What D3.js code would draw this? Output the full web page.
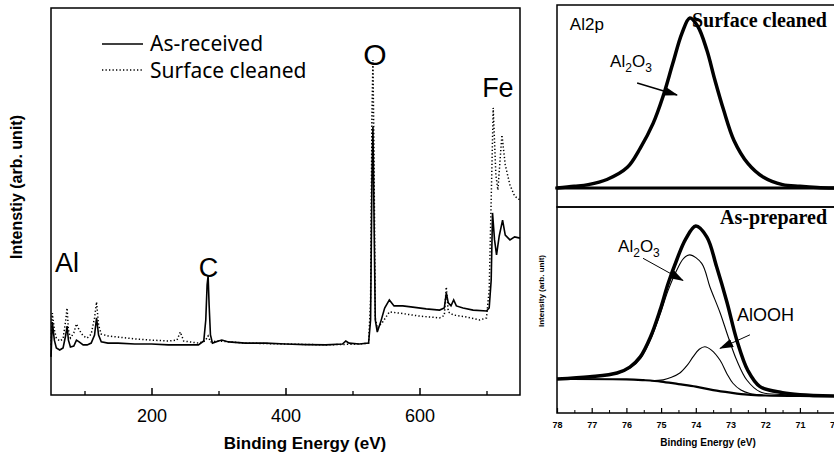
<!DOCTYPE html>
<html>
<head>
<meta charset="utf-8">
<script src="https://d3js.org/d3.v7.min.js"></script>
<style>
  body { margin: 0; background: #fff; }
</style>
</head>
<body>
<div id="chart"></div>
<script>
// survey spectra: [binding energy (eV), intensity (arb. unit)]
var asReceived = [
  [50, 12.7], [52, 24.3], [55, 18.3], [58, 15.7], [63, 15], [68, 15.7], [72, 20], [74, 23],
  [76, 18.3], [79, 16], [84, 16.3], [88, 18.3], [92, 17.7], [98, 16.7], [104, 16.7], [110, 17.3],
  [115, 20], [118, 25.7], [121, 20], [125, 17.7], [135, 17.3], [150, 17.3], [175, 17], [200, 17],
  [225, 16.7], [250, 16.7], [270, 16.7], [278, 18], [281, 25], [283, 36.7], [284.5, 39.7], [286, 30],
  [288, 20], [291, 17.3], [300, 18], [305, 18.3], [315, 17.7], [340, 17.3], [370, 17.3], [400, 17],
  [430, 16.8], [460, 16.7], [485, 17], [490, 18], [495, 17.3], [510, 17], [524, 17.3], [527, 25],
  [529, 71.7], [530.5, 89.3], [532, 61.7], [534, 25], [537, 21], [542, 24.3], [548, 29], [555, 31.7],
  [562, 29.7], [575, 29.7], [590, 29.3], [610, 28.7], [630, 28.3], [637, 29], [640, 34], [643, 30.7],
  [647, 29.7], [651, 31.7], [655, 29.7], [665, 29], [680, 28.3], [700, 28], [704, 29], [707, 38.3],
  [709, 60.7], [712, 51.7], [715, 46.7], [719, 53], [724, 58.3], [728, 53.3], [735, 51.7], [742, 52.7],
  [750, 52.3]
];
var surfaceCleaned = [
  [50, 16.7], [52, 27.3], [55, 21.7], [58, 19], [63, 18], [68, 18.7], [72, 25], [74, 29],
  [76, 21.7], [79, 19], [84, 20.7], [88, 23.7], [92, 21.7], [98, 19.7], [104, 19], [110, 20.3],
  [115, 25.7], [118, 31], [121, 23.3], [125, 20.3], [135, 19.7], [150, 19.3], [175, 18.7], [200, 18.3],
  [225, 18], [238, 18.3], [243, 21], [248, 18], [270, 17.3], [280, 18], [284.5, 19.7], [288, 17.7],
  [300, 18], [340, 17.3], [400, 17], [460, 16.7], [510, 17], [524, 17.3], [527, 31.7], [529, 91.7],
  [530.5, 111.7], [532, 81.7], [534, 25.7], [537, 22.3], [545, 24.3], [555, 27.7], [570, 27.3],
  [600, 26.3], [630, 25.7], [637, 26.5], [640, 36], [643, 27.7], [650, 26.7], [670, 26], [690, 25],
  [700, 25.7], [704, 35], [707, 65], [710, 95.7], [714, 73.3], [717, 68.3], [723, 86.7], [728, 76.7],
  [735, 70], [742, 66.3], [750, 65]
];
var surveyTicks = [200, 400, 600];
var surveyMinorTicks = [100, 300, 500, 700];

// Al2p high resolution: [binding energy (eV), normalised intensity]
var cleanedAl2O3 = [
  [78, 0], [77.5, 0.01], [77.1, 0.02], [76.56, 0.05], [75.98, 0.12], [75.6, 0.235], [75.23, 0.38],
  [74.95, 0.535], [74.66, 0.735], [74.4, 0.91], [74.17, 1.0], [73.94, 0.95], [73.68, 0.81],
  [73.45, 0.635], [73.2, 0.46], [72.9, 0.28], [72.5, 0.145], [72.06, 0.065], [71.5, 0.02],
  [71.0, 0.01], [70.5, 0.003], [70, 0]
];
var cleanedBaseline = [[78.05, 0], [70, 0]];
var preparedEnvelope = [
  [78, 0.10], [77.05, 0.113], [76.27, 0.135], [75.9, 0.17], [75.6, 0.23], [75.3, 0.35],
  [75.03, 0.505], [74.8, 0.66], [74.55, 0.80], [74.3, 0.92], [74.0, 1.0], [73.68, 0.935],
  [73.4, 0.76], [73.1, 0.55], [72.82, 0.33], [72.5, 0.15], [72.15, 0.055], [71.5, 0.02],
  [71.0, 0.008], [70, 0]
];
var preparedAl2O3 = [
  [78, 0.10], [77.05, 0.112], [76.27, 0.132], [75.9, 0.165], [75.6, 0.22], [75.3, 0.335],
  [75.03, 0.48], [74.8, 0.62], [74.55, 0.74], [74.35, 0.81], [74.17, 0.83], [73.83, 0.78],
  [73.59, 0.64], [73.3, 0.49], [73.07, 0.35], [72.82, 0.21], [72.53, 0.094], [72.15, 0.025],
  [71.5, 0.008], [70.5, 0.001], [70, 0]
];
var preparedAlOOH = [
  [75.3, 0.09], [74.94, 0.095], [74.7, 0.11], [74.46, 0.135], [74.25, 0.18], [74.08, 0.23],
  [73.9, 0.275], [73.74, 0.29], [73.55, 0.27], [73.3, 0.21], [73.1, 0.13], [72.93, 0.075],
  [72.7, 0.035], [72.44, 0.015], [72.1, 0.006]
];
var preparedBackground = [
  [78, 0.1], [76, 0.098], [75.5, 0.093], [75.0, 0.085], [74.5, 0.07], [74.0, 0.055],
  [73.5, 0.035], [73.0, 0.02], [72.5, 0.008], [72.0, 0.003], [71, 0], [70, 0]
];
var al2pTicks = [78, 77, 76, 75, 74, 73, 72, 71, 70];
var al2pMinorTicks = [77.5, 76.5, 75.5, 74.5, 73.5, 72.5, 71.5, 70.5];

var sans = "'Liberation Sans', Arial, sans-serif";
var serif = "'Liberation Serif', 'Times New Roman', serif";

var svg = d3.select("#chart")
  .append("svg")
    .attr("width", 834)
    .attr("height", 459);

// arrow head
svg.append("defs").append("marker")
    .attr("id", "head")
    .attr("markerUnits", "userSpaceOnUse")
    .attr("viewBox", "0 0 14 9")
    .attr("markerWidth", 14)
    .attr("markerHeight", 9)
    .attr("refX", 13)
    .attr("refY", 4.5)
    .attr("orient", "auto")
  .append("path")
    .attr("d", "M0,0 L14,4.5 L0,9 Z")
    .attr("fill", "#000");

// ---------- left: survey spectrum ----------
var x = d3.scaleLinear().domain([50, 750]).range([51, 520]);
var y = d3.scaleLinear().domain([0, 129]).range([395, 8]);

var surveyLine = d3.line()
  .x(function (d) { return x(d[0]); })
  .y(function (d) { return y(d[1]); });

svg.append("path")
  .datum(surfaceCleaned)
  .attr("d", surveyLine)
  .attr("fill", "none")
  .attr("stroke", "#000")
  .attr("stroke-width", 1.5)
  .attr("stroke-dasharray", "1.3,2.2");

svg.append("path")
  .datum(asReceived)
  .attr("d", surveyLine)
  .attr("fill", "none")
  .attr("stroke", "#000")
  .attr("stroke-width", 1.6);

svg.append("rect")
  .attr("x", x(50)).attr("y", y(129))
  .attr("width", x(750) - x(50)).attr("height", y(0) - y(129))
  .attr("fill", "none").attr("stroke", "#000").attr("stroke-width", 1.5);

var gx = svg.append("g")
  .attr("transform", "translate(0," + y(0) + ")")
  .call(d3.axisBottom(x).tickValues(surveyTicks).tickSize(-7).tickPadding(14).tickFormat(d3.format("d")));
gx.select(".domain").remove();
gx.selectAll("line").attr("stroke-width", 1.5);
gx.selectAll("text").attr("font-family", sans).attr("font-size", 18).attr("fill", "#000");

var gx2 = svg.append("g")
  .attr("transform", "translate(0," + y(0) + ")")
  .call(d3.axisBottom(x).tickValues(surveyMinorTicks).tickSize(-4).tickFormat(""));
gx2.select(".domain").remove();
gx2.selectAll("line").attr("stroke-width", 1.3);

svg.append("text")
  .attr("x", 305).attr("y", 449)
  .attr("text-anchor", "middle")
  .attr("font-family", sans).attr("font-weight", "bold").attr("font-size", 17)
  .text("Binding Energy (eV)");

svg.append("text")
  .attr("transform", "translate(22,187) rotate(-90)")
  .attr("text-anchor", "middle")
  .attr("font-family", sans).attr("font-weight", "bold").attr("font-size", 16)
  .text("Intenstiy (arb. unit)");

// legend
svg.append("line").attr("x1", 102).attr("x2", 143).attr("y1", 44).attr("y2", 44)
  .attr("stroke", "#000").attr("stroke-width", 1.4);
svg.append("line").attr("x1", 102).attr("x2", 143).attr("y1", 70).attr("y2", 70)
  .attr("stroke", "#000").attr("stroke-width", 1.3).attr("stroke-dasharray", "1.3,2.2");
svg.append("text").attr("x", 150).attr("y", 51)
  .attr("font-family", "'Noto Sans', sans-serif").attr("font-size", 21).text("As-received");
svg.append("text").attr("x", 150).attr("y", 78)
  .attr("font-family", "'Noto Sans', sans-serif").attr("font-size", 21).text("Surface cleaned");

// element labels
function elementLabel(t, e, v, anchor, size) {
  svg.append("text")
    .attr("x", x(e)).attr("y", y(v))
    .attr("text-anchor", anchor)
    .attr("font-family", sans).attr("font-size", size)
    .text(t);
}
elementLabel("Al", 56, 41, "start", 27);
elementLabel("C", 285, 39.3, "middle", 27);
elementLabel("O", 533.5, 110, "middle", 30);
elementLabel("Fe", 717, 99.3, "middle", 27);

// ---------- right: Al2p panels ----------
var xr = d3.scaleLinear().domain([78, 70]).range([557, 834.6]);
var yTop = d3.scaleLinear().domain([0, 1]).range([188, 18]);
var yBot = d3.scaleLinear().domain([0, 1]).range([396, 226]);

var topLine = d3.line().curve(d3.curveCatmullRom)
  .x(function (d) { return xr(d[0]); })
  .y(function (d) { return yTop(d[1]); });
var botLine = d3.line().curve(d3.curveCatmullRom)
  .x(function (d) { return xr(d[0]); })
  .y(function (d) { return yBot(d[1]); });

// frames
svg.append("rect").attr("x", 557).attr("y", 5).attr("width", 290).attr("height", 202)
  .attr("fill", "none").attr("stroke", "#000").attr("stroke-width", 1.5);
svg.append("rect").attr("x", 557).attr("y", 207).attr("width", 290).attr("height", 206)
  .attr("fill", "none").attr("stroke", "#000").attr("stroke-width", 1.5);

svg.append("path").datum(cleanedBaseline).attr("d", topLine)
  .attr("fill", "none").attr("stroke", "#000").attr("stroke-width", 3);
svg.append("path").datum(cleanedAl2O3).attr("d", topLine)
  .attr("fill", "none").attr("stroke", "#000").attr("stroke-width", 3.5);

svg.append("path").datum(preparedBackground).attr("d", botLine)
  .attr("fill", "none").attr("stroke", "#000").attr("stroke-width", 2.2);
svg.append("path").datum(preparedAl2O3).attr("d", botLine)
  .attr("fill", "none").attr("stroke", "#000").attr("stroke-width", 1.1);
svg.append("path").datum(preparedAlOOH).attr("d", botLine)
  .attr("fill", "none").attr("stroke", "#000").attr("stroke-width", 1.1);
svg.append("path").datum(preparedEnvelope).attr("d", botLine)
  .attr("fill", "none").attr("stroke", "#000").attr("stroke-width", 3.5);

var gr = svg.append("g")
  .attr("transform", "translate(0,413)")
  .call(d3.axisBottom(xr).tickValues(al2pTicks).tickSize(-5).tickPadding(9).tickFormat(d3.format("d")));
gr.select(".domain").remove();
gr.selectAll("line").attr("stroke-width", 1.2);
gr.selectAll("text").attr("font-family", sans).attr("font-weight", "bold").attr("font-size", 9).attr("fill", "#000");

var gr2 = svg.append("g")
  .attr("transform", "translate(0,413)")
  .call(d3.axisBottom(xr).tickValues(al2pMinorTicks).tickSize(-3).tickFormat(""));
gr2.select(".domain").remove();
gr2.selectAll("line").attr("stroke-width", 1);

svg.append("text")
  .attr("x", 708).attr("y", 446)
  .attr("text-anchor", "middle")
  .attr("font-family", sans).attr("font-weight", "bold").attr("font-size", 10)
  .text("Binding Energy (eV)");

svg.append("text")
  .attr("transform", "translate(544,291) rotate(-90)")
  .attr("text-anchor", "middle")
  .attr("font-family", sans).attr("font-weight", "bold").attr("font-size", 8)
  .text("Intensity (arb. unit)");

// panel labels
svg.append("text").attr("x", xr(77.63)).attr("y", yTop(0.93))
  .attr("font-family", sans).attr("font-size", 17).text("Al2p");
svg.append("text").attr("x", xr(74.11)).attr("y", yTop(0.95))
  .attr("font-family", serif).attr("font-weight", "bold").attr("font-size", 20).text("Surface cleaned");
svg.append("text").attr("x", xr(73.3)).attr("y", yBot(1.01))
  .attr("font-family", serif).attr("font-weight", "bold").attr("font-size", 20).text("As-prepared");

function oxideLabel(px, py) {
  var t = svg.append("text").attr("x", px).attr("y", py)
    .attr("font-family", sans).attr("font-size", 17);
  t.append("tspan").text("Al");
  t.append("tspan").attr("dy", 5).attr("font-size", 12).text("2");
  t.append("tspan").attr("dy", -5).text("O");
  t.append("tspan").attr("dy", 5).attr("font-size", 12).text("3");
}
oxideLabel(xr(76.47), yTop(0.71));
oxideLabel(xr(76.24), yBot(0.85));
svg.append("text").attr("x", xr(72.81)).attr("y", yBot(0.44))
  .attr("font-family", sans).attr("font-size", 18).text("AlOOH");

// arrows
function arrow(x1, y1, x2, y2, w) {
  svg.append("line")
    .attr("x1", x1).attr("y1", y1).attr("x2", x2).attr("y2", y2)
    .attr("stroke", "#000").attr("stroke-width", w)
    .attr("marker-end", "url(#head)");
}
arrow(xr(75.69), yTop(0.618), xr(74.54), yTop(0.547), 1.5);
arrow(xr(75.52), yBot(0.81), xr(74.37), yBot(0.68), 1);
arrow(xr(72.44), yBot(0.36), xr(73.3), yBot(0.28), 1);
</script>
</body>
</html>
